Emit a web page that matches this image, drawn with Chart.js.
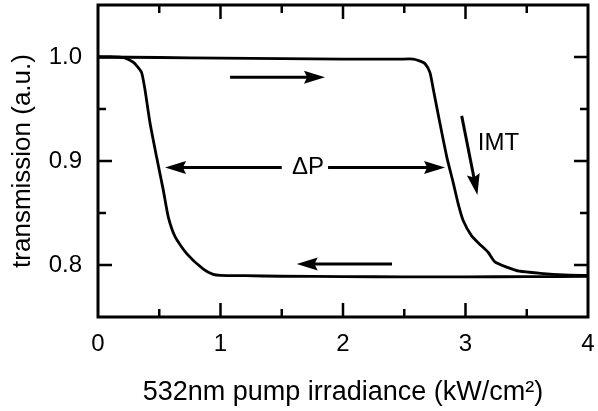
<!DOCTYPE html>
<html><head><meta charset="utf-8">
<script src="https://cdn.jsdelivr.net/npm/chart.js@4/dist/chart.umd.min.js"></script>
<style>html,body{margin:0;padding:0;background:#fff;} #wrap{width:598px;height:411px;}</style>
</head><body><div id="wrap"><canvas id="c" width="598" height="411"></canvas></div>
<script>
// Heating branch (irradiance increasing)
const forwardX = [0, 0.5, 1.0, 1.5, 2.0, 2.3, 2.465, 2.574, 2.63, 2.67, 2.71, 2.737, 2.79, 2.847, 2.90, 2.94, 2.98, 3.05, 3.116, 3.186, 3.24, 3.336, 3.44, 3.61, 3.8, 4.0];
const forwardY = [1.0, 0.9995, 0.999, 0.9985, 0.998, 0.998, 0.998, 0.998, 0.996, 0.9935, 0.985, 0.969, 0.937, 0.904, 0.879, 0.859, 0.843, 0.828, 0.820, 0.812, 0.803, 0.798, 0.794, 0.792, 0.7905, 0.790];
// Cooling branch (irradiance decreasing)
const backwardX = [4.0, 3.5, 3.0, 2.5, 2.0, 1.5, 1.2, 1.0, 0.94, 0.86, 0.724, 0.63, 0.574, 0.533, 0.478, 0.424, 0.383, 0.356, 0.32, 0.288, 0.207, 0.1, 0];
const backwardY = [0.789, 0.7888, 0.7886, 0.7886, 0.7888, 0.7892, 0.7897, 0.790, 0.791, 0.796, 0.811, 0.827, 0.846, 0.872, 0.904, 0.937, 0.969, 0.985, 0.991, 0.995, 0.9995, 1.0, 1.0];

const xTickValues = [0, 1, 2, 3, 4];
const xMinorTicks = [0.5, 1.5, 2.5, 3.5];
const yTickValues = [0.8, 0.9, 1.0];
const yMinorTicks = [0.85, 0.95];
const xTitle = '532nm pump irradiance (kW/cm²)';
const yTitle = 'transmission (a.u.)';

// Annotation arrows in data units: [xFrom, yFrom, xTip, yTip]
const arrows = [
  [1.078, 0.9806, 1.853, 0.9806],
  [2.40, 0.801, 1.622, 0.801],
  [1.50, 0.8938, 0.547, 0.8938],
  [1.878, 0.8938, 2.833, 0.8938],
  [2.969, 0.9434, 3.097, 0.8674]
];
const noteTexts = ['ΔP', 'IMT'];
const noteX = [1.714, 3.10];
const noteY = [0.8938, 0.9168];
const noteAlign = ['center', 'left'];

const FONT = 'Liberation Sans, Arial, sans-serif';

function toPts(xs, ys) { return xs.map((x, i) => ({x: x, y: ys[i]})); }
function noPad(s) { s.paddingTop = 0; s.paddingBottom = 0; s.paddingLeft = 0; s.paddingRight = 0; }

const framePlugin = {
  id: 'frame',
  afterDraw(chart) {
    const ctx = chart.ctx, a = chart.chartArea;
    const sx = chart.scales.x, sy = chart.scales.y;
    ctx.save();
    ctx.strokeStyle = '#000';
    ctx.lineWidth = 3;
    ctx.lineCap = 'butt';
    ctx.strokeRect(a.left, a.top, a.right - a.left, a.bottom - a.top);
    ctx.lineWidth = 2.5;
    const tick = (vals, len) => {
      vals.forEach(v => {
        const px = sx.getPixelForValue(v);
        ctx.beginPath();
        ctx.moveTo(px, a.bottom); ctx.lineTo(px, a.bottom - len);
        ctx.moveTo(px, a.top); ctx.lineTo(px, a.top + len);
        ctx.stroke();
      });
    };
    const tickY = (vals, len) => {
      vals.forEach(v => {
        const py = sy.getPixelForValue(v);
        ctx.beginPath();
        ctx.moveTo(a.left, py); ctx.lineTo(a.left + len, py);
        ctx.moveTo(a.right, py); ctx.lineTo(a.right - len, py);
        ctx.stroke();
      });
    };
    tick(xTickValues.filter(v => v > sx.min && v < sx.max), 14);
    tick(xMinorTicks, 8);
    tickY(yTickValues, 14);
    tickY(yMinorTicks, 8);

    // arrows
    ctx.fillStyle = '#000';
    ctx.lineWidth = 3;
    arrows.forEach(ar => {
      const x1 = sx.getPixelForValue(ar[0]), y1 = sy.getPixelForValue(ar[1]);
      const x2 = sx.getPixelForValue(ar[2]), y2 = sy.getPixelForValue(ar[3]);
      const dx = x2 - x1, dy = y2 - y1, L = Math.hypot(dx, dy);
      const ux = dx / L, uy = dy / L, nx = -uy, ny = ux;
      const hl = 21, hw = 6.5;
      const bx = x2 - ux * hl, by = y2 - uy * hl;
      ctx.beginPath();
      ctx.moveTo(x1, y1);
      ctx.lineTo(x2 - ux * hl * 0.8, y2 - uy * hl * 0.8);
      ctx.stroke();
      ctx.beginPath();
      ctx.moveTo(x2, y2);
      ctx.lineTo(bx + nx * hw, by + ny * hw);
      ctx.lineTo(x2 - ux * hl * 0.85, y2 - uy * hl * 0.85);
      ctx.lineTo(bx - nx * hw, by - ny * hw);
      ctx.closePath();
      ctx.fill();
    });
    ctx.font = '24px ' + FONT;
    ctx.textBaseline = 'middle';
    noteTexts.forEach((t, i) => {
      ctx.textAlign = noteAlign[i];
      ctx.fillText(t, sx.getPixelForValue(noteX[i]), sy.getPixelForValue(noteY[i]));
    });
    ctx.restore();
  }
};

new Chart(document.getElementById('c'), {
  type: 'scatter',
  data: {
    datasets: [
      {data: toPts(forwardX, forwardY), showLine: true, pointRadius: 0, borderColor: '#000', borderWidth: 2.8, tension: 0.2, fill: false},
      {data: toPts(backwardX, backwardY), showLine: true, pointRadius: 0, borderColor: '#000', borderWidth: 2.8, tension: 0.2, fill: false}
    ]
  },
  options: {
    responsive: false,
    devicePixelRatio: 1,
    animation: false,
    layout: {padding: {top: 5, right: 10, left: 0, bottom: 0}},
    plugins: {legend: {display: false}, tooltip: {enabled: false}},
    scales: {
      x: {
        type: 'linear', min: 0, max: 4,
        afterBuildTicks: s => { s.ticks = xTickValues.map(v => ({value: v})); },
        afterFit: s => { s.height = 94; noPad(s); },
        grid: {display: false, drawTicks: false},
        border: {display: false},
        ticks: {color: '#000', font: {family: FONT, size: 24}, padding: 13, maxRotation: 0, autoSkip: false, callback: v => String(v)},
        title: {display: true, text: xTitle, color: '#000', font: {family: FONT, size: 27}, padding: {top: 0, bottom: 2}}
      },
      y: {
        type: 'linear', min: 0.75, max: 1.05,
        afterBuildTicks: s => { s.ticks = yTickValues.map(v => ({value: v})); },
        afterFit: s => { s.width = 98; noPad(s); },
        grid: {display: false, drawTicks: false},
        border: {display: false},
        ticks: {color: '#000', font: {family: FONT, size: 24}, padding: 16, autoSkip: false, callback: v => Number(v).toFixed(1)},
        title: {display: true, text: yTitle, color: '#000', font: {family: FONT, size: 26}, padding: {top: 7, bottom: 0}}
      }
    }
  },
  plugins: [framePlugin]
});
</script>
</body></html>
